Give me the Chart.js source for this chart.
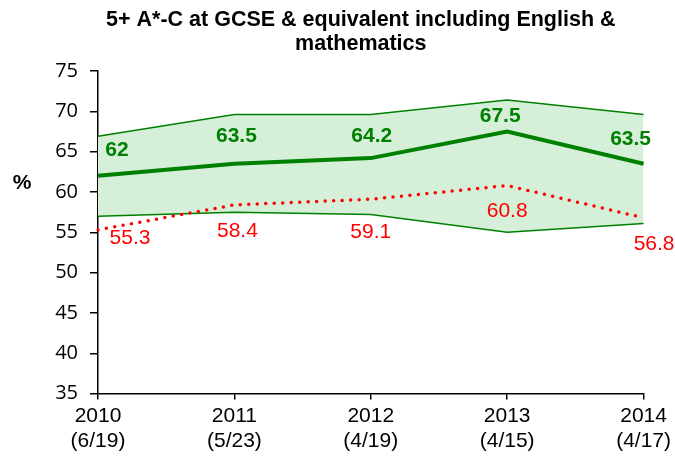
<!DOCTYPE html>
<html>
<head>
<meta charset="utf-8">
<script src="https://cdn.jsdelivr.net/npm/chart.js@4/dist/chart.umd.min.js"></script>
<style>
  html, body { margin: 0; padding: 0; background: #fff; }
  #wrap { width: 675px; height: 459px; }
</style>
</head>
<body>
<div id="wrap"><canvas id="c" width="675" height="459"></canvas></div>
<script>
const years = ['2010', '2011', '2012', '2013', '2014'];
const rankLabels = ['(6/19)', '(5/23)', '(4/19)', '(4/15)', '(4/17)'];
const schoolValues = [62, 63.5, 64.2, 67.5, 63.5];
const nationalValues = [55.3, 58.4, 59.1, 60.8, 56.8];
const upperBand = [66.9, 69.6, 69.6, 71.4, 69.6];
const lowerBand = [57.0, 57.5, 57.2, 55.0, 56.1];
const yTicks = { min: 35, max: 75, step: 5 };
const titleLines = ['5+ A*-C at GCSE & equivalent including English &', 'mathematics'];
const yTitle = '%';

const GREEN = '#008000';
const RED = '#ff0000';

// label offsets (pixels relative to each point)
const labelOffsets = {
  school: [[19, -26], [2, -28], [1, -22], [-7, -15], [-13, -25]],
  national: [[32, 8], [3, 26], [0, 33], [0, 25.5], [10.5, 26.5]]
};

const labelPlugin = {
  id: 'valueLabels',
  afterDatasetsDraw(chart) {
    const ctx = chart.ctx;
    ctx.save();
    ctx.textAlign = 'center';
    ctx.textBaseline = 'middle';
    chart.data.datasets.forEach((ds, di) => {
      if (!ds.labelKey) return;
      const meta = chart.getDatasetMeta(di);
      const offs = labelOffsets[ds.labelKey];
      ctx.fillStyle = ds.labelColor;
      ctx.font = ds.labelFont;
      meta.data.forEach((pt, i) => {
        const v = ds.data[i];
        ctx.fillText(String(v), pt.x + offs[i][0], pt.y + offs[i][1]);
      });
    });
    const ca = chart.chartArea;
    ctx.fillStyle = '#000';
    ctx.font = 'bold 21px "Liberation Sans", Arial, sans-serif';
    ctx.fillText(yTitle, ca.left - 76, ca.top + 0.348 * (ca.bottom - ca.top));
    ctx.font = 'bold 21.5px "Liberation Sans", Arial, sans-serif';
    const cx = (ca.left + ca.right) / 2 - 10;
    titleLines.forEach((line, i) => {
      ctx.fillText(line, cx, 20 + i * 24);
    });
    ctx.restore();
  }
};

function build() {
  new Chart(document.getElementById('c'), {
    type: 'line',
    data: {
      labels: years.map((y, i) => [y, rankLabels[i]]),
      datasets: [
        {
          data: upperBand,
          borderColor: GREEN,
          borderWidth: 1.5,
          backgroundColor: 'rgb(213,239,217)',
          fill: '+1',
          pointRadius: 0,
          tension: 0,
          order: 3
        },
        {
          data: lowerBand,
          borderColor: GREEN,
          borderWidth: 1.5,
          fill: false,
          pointRadius: 0,
          tension: 0,
          order: 2
        },
        {
          data: nationalValues,
          borderColor: RED,
          borderWidth: 3.5,
          borderDash: [0, 8.5],
          borderCapStyle: 'round',
          fill: false,
          pointRadius: 0,
          tension: 0,
          order: 1,
          labelKey: 'national',
          labelColor: RED,
          labelFont: '21px "Liberation Sans", Arial, sans-serif'
        },
        {
          data: schoolValues,
          borderColor: GREEN,
          borderWidth: 4,
          fill: false,
          pointRadius: 0,
          tension: 0,
          order: 0,
          labelKey: 'school',
          labelColor: GREEN,
          labelFont: 'bold 21px "Liberation Sans", Arial, sans-serif'
        }
      ]
    },
    options: {
      responsive: false,
      animation: false,
      layout: { padding: { left: 0, right: 31, top: 71, bottom: 1 } },
      plugins: {
        legend: { display: false },
        tooltip: { enabled: false },
        title: { display: false },
        filler: { drawTime: 'beforeDatasetsDraw' }
      },
      scales: {
        x: {
          type: 'category',
          offset: false,
          grid: { display: true, drawOnChartArea: false, drawTicks: true, tickLength: 6, color: '#000', lineWidth: 1.5 },
          border: { display: true, color: '#000', width: 1.5 },
          ticks: {
            color: '#000',
            maxRotation: 0,
            autoSkip: false,
            padding: 4,
            font: { family: '"Liberation Sans", Arial, sans-serif', size: 21, lineHeight: 1.2 }
          }
        },
        y: {
          min: yTicks.min,
          max: yTicks.max,
          afterFit(scale) { scale.width = 98; },
          grid: { display: true, drawOnChartArea: false, drawTicks: true, tickLength: 8, color: '#000', lineWidth: 1.5 },
          border: { display: true, color: '#000', width: 1.5 },
          ticks: {
            stepSize: yTicks.step,
            color: '#000',
            padding: 12,
            font: { family: "'Open Sans', 'Noto Sans', sans-serif", size: 20 }
          }
        }
      }
    },
    plugins: [labelPlugin]
  });
}

Promise.all([
  document.fonts.load("20px 'Open Sans'"),
  document.fonts.load('21px "Liberation Sans"'),
  document.fonts.load('bold 21px "Liberation Sans"')
]).catch(() => {}).then(build);
</script>
</body>
</html>
